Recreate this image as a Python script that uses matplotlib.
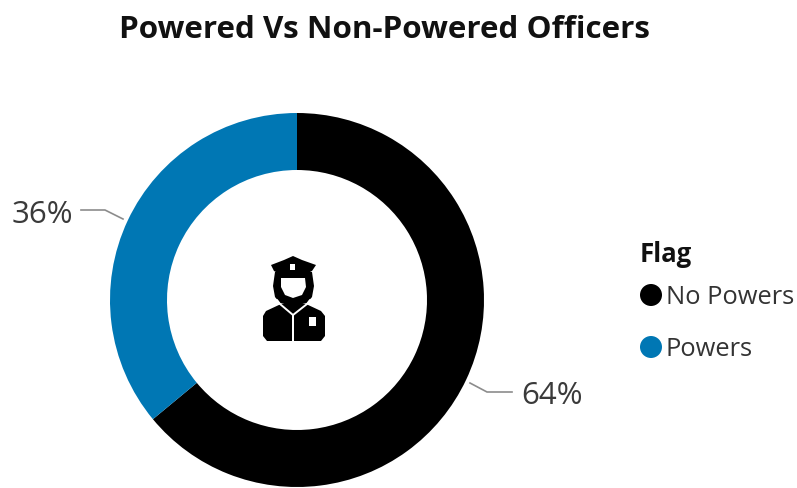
import matplotlib.pyplot as plt
from matplotlib.patches import Circle, Polygon, Rectangle

categories = ["No Powers", "Powers"]
shares = [64, 36]
colors = ["#000000", "#0077B4"]
W, H = 797, 488

plt.rcParams["font.family"] = ["Open Sans", "DejaVu Sans"]

fig = plt.figure(figsize=(W / 100, H / 100), dpi=100)
ax = fig.add_axes([0, 0, 1, 1])


# layout is worked out in pixels from the top left corner
def py(y):
    return H - y


ax.pie(shares, colors=colors, startangle=90, counterclock=False, radius=187,
       center=(297, py(300)), wedgeprops={"width": 57, "linewidth": 0})
ax.set_xlim(0, W)
ax.set_ylim(0, H)
ax.set_aspect("equal")
ax.axis("off")

fig.text(384.5 / W, 1 - 30 / H, "Powered Vs Non-Powered Officers", fontsize=22.6,
         fontweight="bold", color="#111111", ha="center", va="center")

# leader lines and percentage labels
ax.plot([81, 105, 123], [py(210), py(210), py(219)], color="#8c8c8c", lw=1.2)
ax.plot([470, 487, 512], [py(383), py(392), py(392)], color="#8c8c8c", lw=1.2)
ax.text(42, py(215), f"{shares[1]}%", fontsize=22.5, color="#3a3a3a", ha="center", va="center")
ax.text(552, py(396), f"{shares[0]}%", fontsize=22.5, color="#3a3a3a", ha="center", va="center")

# legend
ax.text(640, py(255), "Flag", fontsize=18.5, fontweight="bold", color="#111111", va="center")
for cat, col, y in zip(categories, colors, [295, 347]):
    ax.add_patch(Circle((651, py(y)), 11, fc=col, ec="none"))
    ax.text(666, py(y + 2), cat, fontsize=18.4, color="#333333", va="center")


# officer icon
def poly(points, color="black"):
    ax.add_patch(Polygon([(x, py(y)) for x, y in points], closed=True, fc=color, ec="none"))


def stroke(points, width=1.4):
    ax.plot([x for x, _ in points], [py(y) for _, y in points], color="white", lw=width,
            solid_capstyle="round")


# shoulders and torso
poly([(263, 316), (266, 311), (281, 304), (306, 304), (321, 311), (325, 316), (325, 336),
      (321, 341), (267, 341), (263, 336)])
# hair, falling past the jaw on both sides
poly([(275, 272), (312, 272), (314, 286), (312, 297), (307, 303), (293, 306), (280, 303),
      (275, 297), (273, 286)])
stroke([(277, 300), (280, 304), (293, 315), (307, 304), (310, 300)])
# face, flat under the cap brim
poly([(281, 278), (305, 278), (306, 287), (302, 295), (293, 298), (285, 295), (281, 287)], "white")
# cap
poly([(293, 256), (302, 260), (316, 265), (312, 271), (306, 274), (304, 278), (282, 278),
      (280, 274), (274, 271), (271, 265), (284, 260)])
# cap badge, shirt placket, chest badge
ax.add_patch(Rectangle((290.5, py(270)), 5, 6, fc="white", ec="none"))
ax.add_patch(Rectangle((292.5, py(341)), 1.2, 27, fc="white", ec="none"))
ax.add_patch(Rectangle((309, py(326)), 7, 9, fc="white", ec="none"))

fig.savefig("out.png", dpi=100)
